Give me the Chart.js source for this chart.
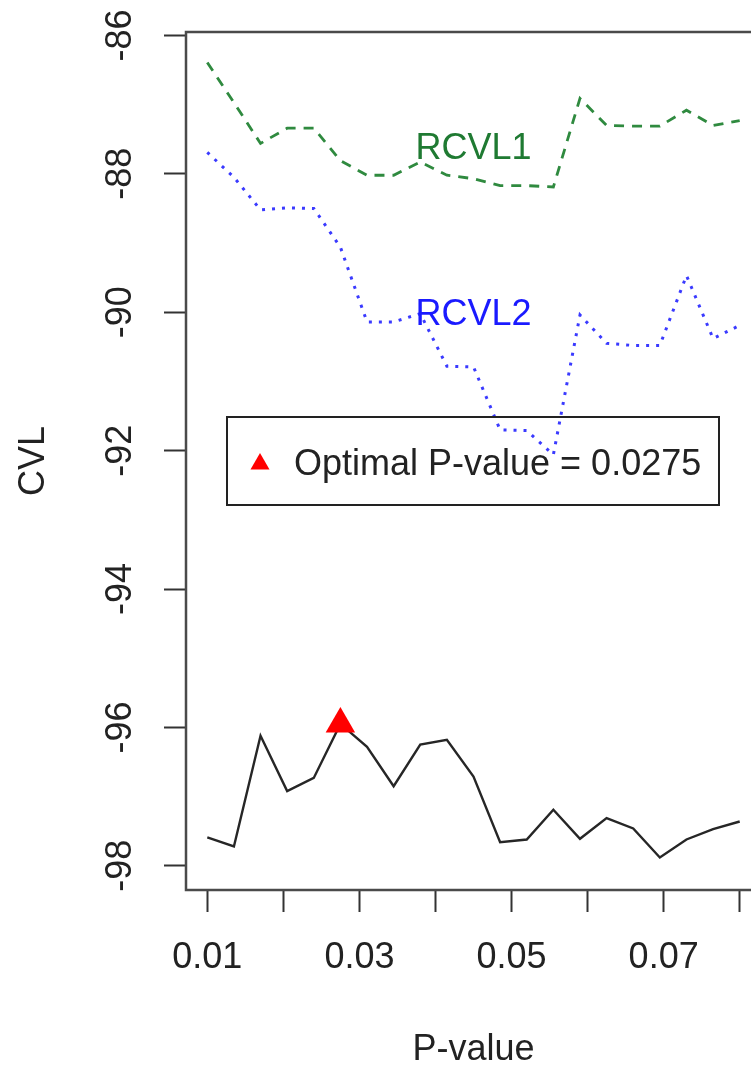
<!DOCTYPE html>
<html>
<head>
<meta charset="utf-8">
<script src="https://cdn.jsdelivr.net/npm/chart.js@4.4.1/dist/chart.umd.min.js"></script>
<style>
  html, body { margin: 0; padding: 0; background: #ffffff; overflow: hidden; }
  #wrap { width: 751px; height: 1065px; overflow: hidden; position: relative; background: #fff; }
  #c { display: block; }
</style>
</head>
<body>
<div id="wrap"><canvas id="c" width="780" height="1065" style="width:780px;height:1065px"></canvas></div>
<script>
// ---- data ----
const pValues = [0.01, 0.0135, 0.017, 0.0205, 0.024, 0.0275, 0.031, 0.0345, 0.038, 0.0415, 0.045,
                 0.0485, 0.052, 0.0555, 0.059, 0.0625, 0.066, 0.0695, 0.073, 0.0765, 0.08];
const cvl   = [-97.59, -97.72, -96.12, -96.92, -96.73, -95.95, -96.28, -96.85, -96.25, -96.18, -96.71,
               -97.66, -97.62, -97.19, -97.61, -97.31, -97.46, -97.88, -97.62, -97.47, -97.36];
const rcvl1 = [-86.39, -86.97, -87.56, -87.34, -87.34, -87.81, -88.02, -88.02, -87.83, -88.02, -88.07,
               -88.17, -88.17, -88.19, -86.91, -87.30, -87.31, -87.31, -87.08, -87.30, -87.23];
const rcvl2 = [-87.69, -88.05, -88.52, -88.49, -88.50, -89.06, -90.14, -90.14, -90.02, -90.78, -90.79,
               -91.70, -91.71, -92.06, -90.04, -90.45, -90.48, -90.48, -89.47, -90.38, -90.19];
const optimalP = 0.0275;
const optimalCVL = -95.95;
const xTickValues = [0.01, 0.02, 0.03, 0.04, 0.05, 0.06, 0.07, 0.08];
const xTickLabels = ['0.01', '', '0.03', '', '0.05', '', '0.07', ''];
const yTickValues = [-98, -96, -94, -92, -90, -88, -86];
const yTickLabels = ['-98', '-96', '-94', '-92', '-90', '-88', '-86'];
const seriesNames = ['RCVL1', 'RCVL2'];
const seriesLabelX = [0.045, 0.045];
const seriesLabelY = [-87.6, -90.0];
const xTitle = 'P-value';
const yTitle = 'CVL';

// ---- styling ----
const FONT = "'Liberation Sans', Arial, Helvetica, sans-serif";
const GREEN_LINE = '#2f8a3f', GREEN_TEXT = '#1f7a32';
const BLUE_LINE = '#3a3aff', BLUE_TEXT = '#1a1aff';
const TXT = '#222222';

const toXY = (ys) => pValues.map((x, i) => ({x: x, y: ys[i]}));

const overlay = {
  id: 'overlay',
  afterDatasetsDraw(chart) {
    const {ctx, chartArea: a, scales: {x, y}} = chart;
    ctx.save();
    // box
    ctx.strokeStyle = '#4a4a4a';
    ctx.lineWidth = 2.5;
    ctx.strokeRect(a.left, a.top, a.right - a.left, a.bottom - a.top);
    // series labels
    ctx.font = '36px ' + FONT;
    ctx.textAlign = 'center';
    ctx.textBaseline = 'alphabetic';
    const cols = [GREEN_TEXT, BLUE_TEXT];
    seriesNames.forEach((t, i) => {
      ctx.fillStyle = cols[i];
      ctx.fillText(t, x.getPixelForValue(seriesLabelX[i]), y.getPixelForValue(seriesLabelY[i]) + 13);
    });
    // legend
    const lx = 227, ly = 417, lw = 492, lh = 88;
    ctx.strokeStyle = '#222';
    ctx.lineWidth = 2;
    ctx.strokeRect(lx, ly, lw, lh);
    const tx = 260, ty = 464, r = 11;
    ctx.fillStyle = '#ff0000';
    ctx.beginPath();
    ctx.moveTo(tx, ty - r);
    ctx.lineTo(tx + r * Math.sin(2 * Math.PI / 3), ty + r / 2);
    ctx.lineTo(tx - r * Math.sin(2 * Math.PI / 3), ty + r / 2);
    ctx.closePath();
    ctx.fill();
    ctx.fillStyle = TXT;
    ctx.textAlign = 'left';
    ctx.fillText('Optimal P-value = ' + optimalP, 294, 475);
    ctx.restore();
  }
};

new Chart(document.getElementById('c'), {
  type: 'line',
  data: {
    datasets: [
      { label: 'Optimal', type: 'scatter', data: [{x: optimalP, y: optimalCVL}],
        pointStyle: 'triangle', pointRadius: 17, pointHoverRadius: 17,
        backgroundColor: '#ff0000', borderColor: '#ff0000', borderWidth: 0, showLine: false },
      { label: 'CVL', data: toXY(cvl), borderColor: '#262626', borderWidth: 2.4,
        pointRadius: 0, tension: 0, fill: false },
      { label: 'RCVL1', data: toXY(rcvl1), borderColor: GREEN_LINE, borderWidth: 2.8,
        borderDash: [10, 8], pointRadius: 0, tension: 0, fill: false },
      { label: 'RCVL2', data: toXY(rcvl2), borderColor: BLUE_LINE, borderWidth: 3,
        borderDash: [3, 7], borderCapStyle: 'butt', pointRadius: 0, tension: 0, fill: false }
    ]
  },
  options: {
    responsive: false,
    animation: false,
    devicePixelRatio: 1,
    layout: { padding: { left: 0, top: 32, right: 19, bottom: 0 } },
    plugins: { legend: { display: false }, tooltip: { enabled: false } },
    scales: {
      x: {
        type: 'linear', min: 0.0072, max: 0.0828,
        afterBuildTicks: (s) => { s.ticks = xTickValues.map(v => ({value: v})); },
        afterFit: (s) => { s.height = 175; s.paddingLeft = 0; s.paddingRight = 0; },
        border: { display: false },
        grid: { display: true, drawOnChartArea: false, drawTicks: true, tickLength: 22,
                tickColor: '#333', tickWidth: 2 },
        ticks: { autoSkip: false, maxRotation: 0, minRotation: 0, padding: 24,
                 color: TXT, font: { family: FONT, size: 36 },
                 callback: (v, i) => xTickLabels[i] },
        title: { display: true, text: xTitle, color: TXT,
                 font: { family: FONT, size: 36, lineHeight: 0.85 }, padding: { top: 0, bottom: 0 } }
      },
      y: {
        type: 'linear', min: -98.35, max: -85.95,
        afterBuildTicks: (s) => { s.ticks = yTickValues.map(v => ({value: v})); },
        afterFit: (s) => { s.width = 186; s.paddingTop = 0; s.paddingBottom = 0; },
        border: { display: false },
        grid: { display: true, drawOnChartArea: false, drawTicks: true, tickLength: 22,
                tickColor: '#333', tickWidth: 2 },
        ticks: { autoSkip: false, minRotation: 90, maxRotation: 90, crossAlign: 'center', padding: 17,
                 color: TXT, font: { family: FONT, size: 36 },
                 callback: (v, i) => yTickLabels[i] },
        title: { display: true, text: yTitle, color: TXT,
                 font: { family: FONT, size: 36 }, padding: { top: 12, bottom: 0 } }
      }
    }
  },
  plugins: [overlay]
});
</script>
</body>
</html>
